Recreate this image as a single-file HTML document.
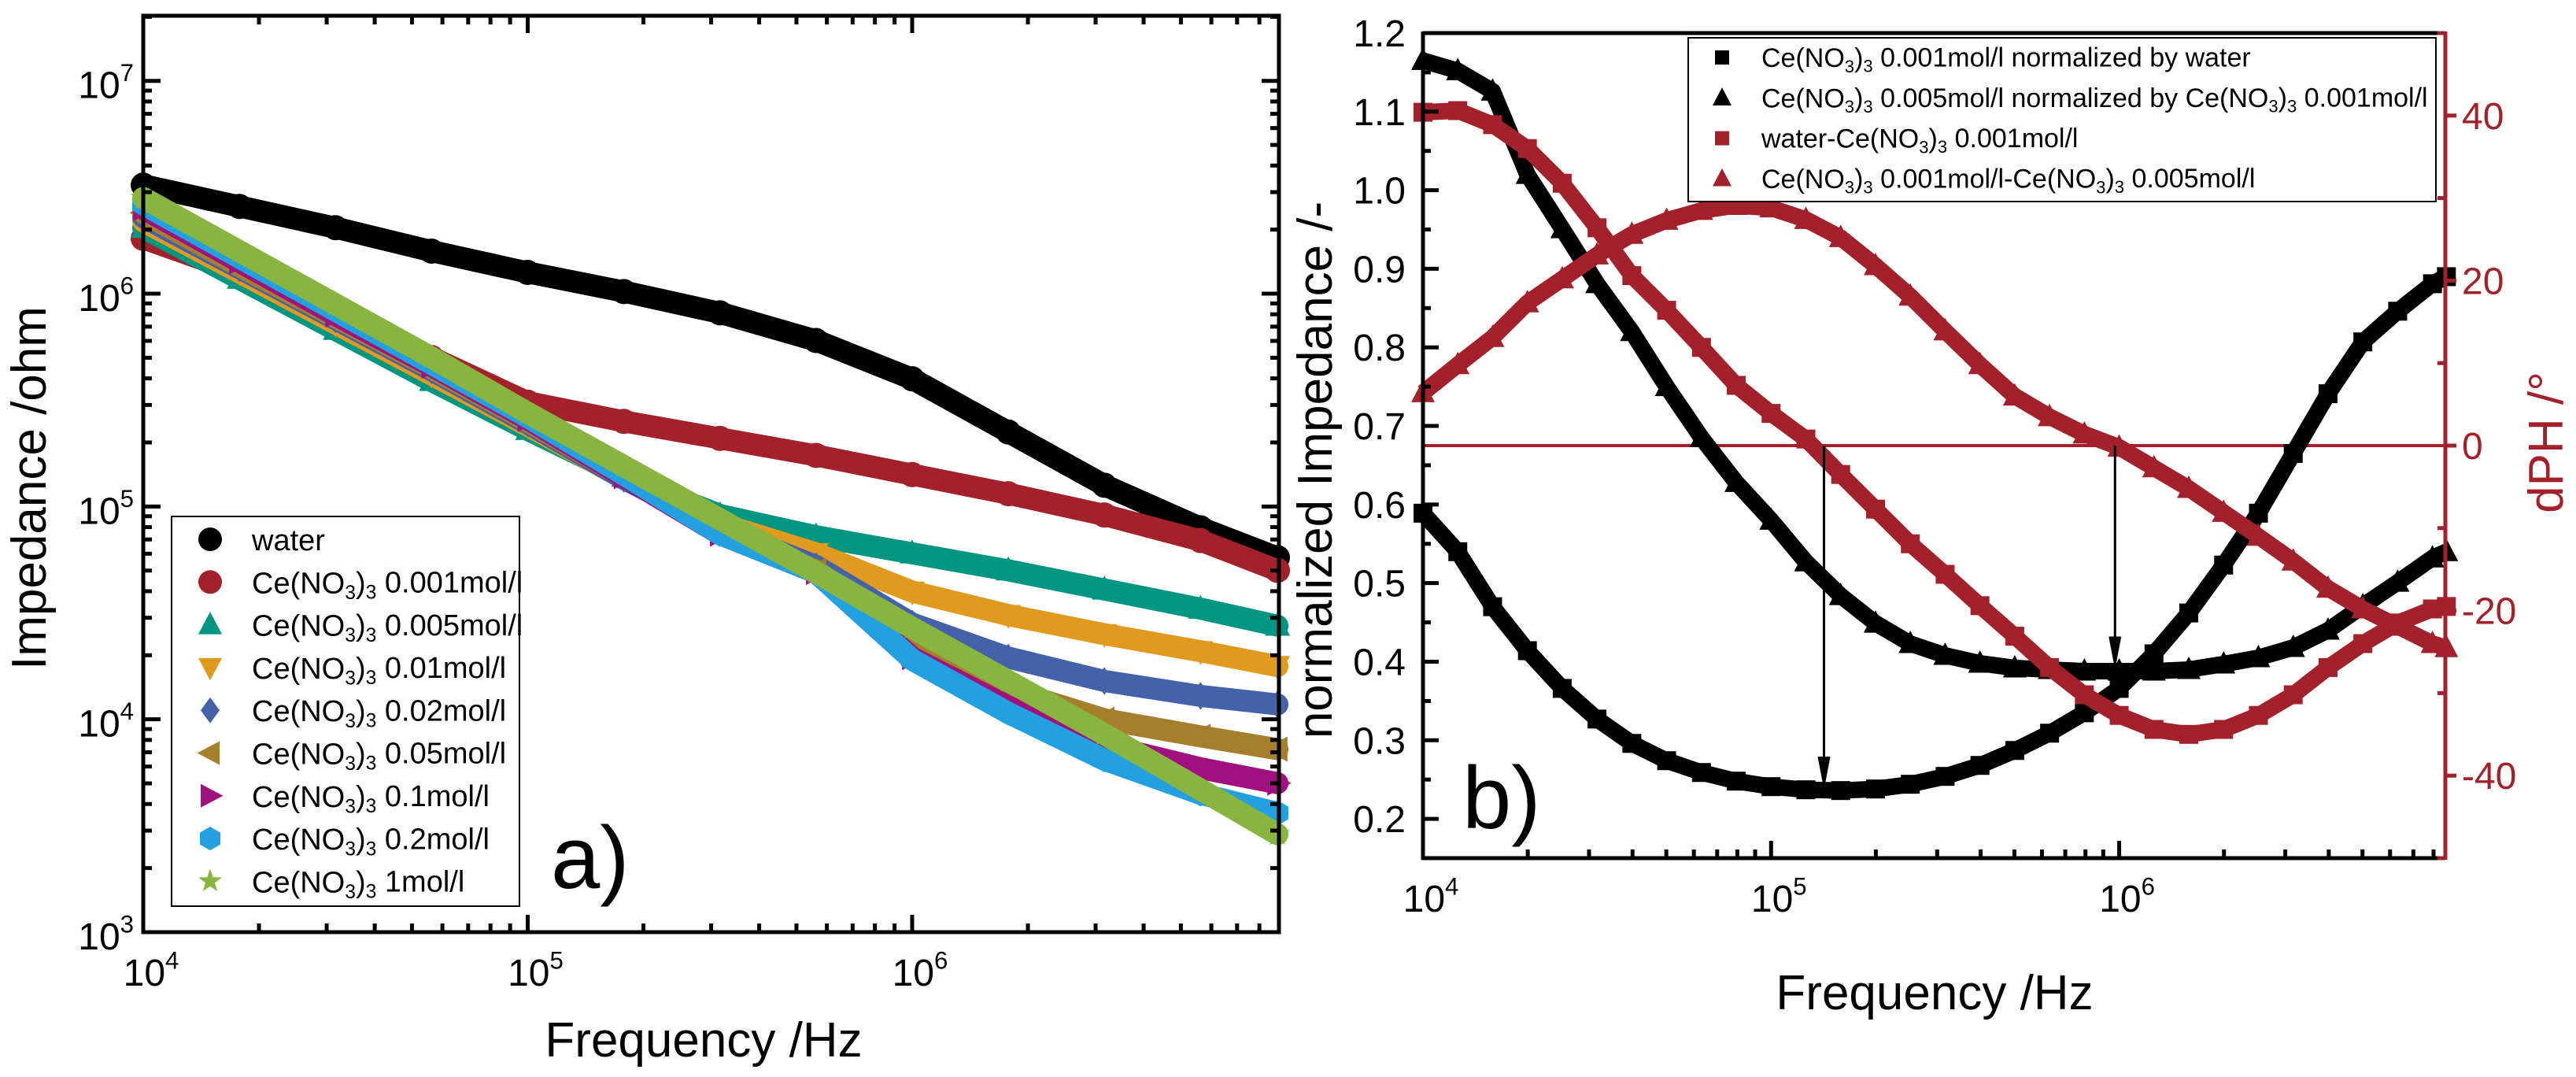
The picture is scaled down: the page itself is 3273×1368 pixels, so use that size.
<!DOCTYPE html>
<html><head><meta charset="utf-8"><style>
html,body{margin:0;padding:0;background:#fff;}
svg{display:block;font-family:"Liberation Sans",Arial,sans-serif;}
</style></head><body>
<svg id="fig" width="3273" height="1368" viewBox="0 0 3273 1368" xmlns="http://www.w3.org/2000/svg">
<g id="panelA"></g>
<g id="panelB"></g>
</svg>
<script>
// ---------- Panel A data (log10 frequency, log10 impedance) ----------
const freqLogA = [4,4.25,4.5,4.75,5,5.25,5.5,5.75,6,6.25,6.5,6.75,6.95];
const waterLogZ = [6.51,6.41,6.31,6.20,6.10,6.01,5.91,5.78,5.60,5.35,5.10,4.90,4.76];
const ce0001LogZ = [6.26,6.10,5.92,5.70,5.49,5.40,5.32,5.24,5.15,5.06,4.96,4.84,4.70];
const ce0005LogZ = [6.31,6.07,5.83,5.59,5.36,5.14,4.96,4.86,4.78,4.70,4.61,4.52,4.44];
const ce001LogZ = [6.34,6.10,5.86,5.62,5.38,5.13,4.92,4.78,4.60,4.49,4.40,4.32,4.25];
const ce002LogZ = [6.36,6.12,5.88,5.64,5.39,5.13,4.90,4.72,4.45,4.29,4.18,4.11,4.07];
const ce005LogZ = [6.38,6.13,5.89,5.65,5.40,5.14,4.88,4.70,4.36,4.14,4.00,3.92,3.86];
const ce01LogZ = [6.40,6.15,5.90,5.66,5.41,5.14,4.87,4.69,4.29,4.06,3.88,3.77,3.70];
const ce02LogZ = [6.42,6.17,5.92,5.67,5.42,5.15,4.87,4.69,4.28,4.03,3.81,3.65,3.56];
const ce1LogZ = [6.45,6.20,5.95,5.70,5.44,5.19,4.94,4.69,4.43,4.18,3.93,3.67,3.46];
const yTickExpA = [3,4,5,6,7];
const xTickExpA = [4,5,6];

// ---------- Panel B data ----------
const freqLogB = [4,4.1,4.2,4.3,4.4,4.5,4.6,4.7,4.8,4.9,5,5.1,5.2,5.3,5.4,5.5,5.6,5.7,5.8,5.9,6,6.1,6.2,6.3,6.4,6.5,6.6,6.7,6.8,6.9,6.94];
const normWater = [0.589,0.54,0.47,0.414,0.366,0.327,0.296,0.274,0.259,0.248,0.241,0.237,0.236,0.238,0.244,0.254,0.268,0.287,0.309,0.335,0.366,0.41,0.462,0.523,0.589,0.665,0.741,0.807,0.846,0.881,0.89];
const normCe0001 = [1.165,1.152,1.126,1.02,0.951,0.881,0.82,0.75,0.685,0.628,0.58,0.527,0.484,0.449,0.423,0.408,0.398,0.392,0.39,0.388,0.388,0.388,0.39,0.397,0.405,0.418,0.44,0.471,0.501,0.532,0.54];
const dphWater = [40.4,40.6,38.9,36,31.8,26.4,20.6,16.4,11.9,7.3,3.9,0.8,-3.5,-7.7,-11.9,-15.6,-19.4,-23.1,-26.9,-30.2,-32.7,-34.4,-35,-34.4,-32.7,-30.2,-26.9,-24,-21.5,-19.8,-19.5];
const dphCe = [6.4,9.8,13.1,17.3,20.2,23.1,25.6,27.3,28.5,29.1,28.8,27.4,25.2,21.8,18.1,13.9,9.8,6.0,3.5,1.4,-0.2,-2.7,-5.2,-8.1,-11,-14,-17.3,-19.8,-21.9,-24,-24.5];
const leftTicksB = [0.2,0.3,0.4,0.5,0.6,0.7,0.8,0.9,1.0,1.1,1.2];
const rightTicksB = [-40,-20,0,20,40];
const arrowFreqLog = [5.152,5.988];
const arrowTarget = [0.237,0.39];

const NS="http://www.w3.org/2000/svg";
const RED="#a3212a";
function mk(parent,tag,attrs){const e=document.createElementNS(NS,tag);for(const k in attrs)e.setAttribute(k,attrs[k]);parent.appendChild(e);return e;}

// ---------- Panel A scales ----------
const AL=182,AR=1625,AT=20,AB=1184,AXMAX=6.954,AYMIN=3,AYMAX=7.306;
function xA(l){return AL+(l-4)/(AXMAX-4)*(AR-AL);}
function yA(l){return AB-(l-AYMIN)/(AYMAX-AYMIN)*(AB-AT);}

function marker(g,type,x,y,s,color){
  let e;const h=s/2;
  if(type==='circle'){e=mk(g,'circle',{cx:x,cy:y,r:h,fill:color});}
  else if(type==='square'){e=mk(g,'rect',{x:x-h,y:y-h,width:s,height:s,fill:color});}
  else{
    let pts;
    if(type==='tri-up')pts=[[x,y-h*1.1],[x+h,y+h*0.8],[x-h,y+h*0.8]];
    else if(type==='tri-down')pts=[[x,y+h*1.1],[x+h,y-h*0.8],[x-h,y-h*0.8]];
    else if(type==='tri-left')pts=[[x-h*1.1,y],[x+h*0.8,y-h],[x+h*0.8,y+h]];
    else if(type==='tri-right')pts=[[x+h*1.1,y],[x-h*0.8,y-h],[x-h*0.8,y+h]];
    else if(type==='diamond')pts=[[x,y-h*1.1],[x+h*0.8,y],[x,y+h*1.1],[x-h*0.8,y]];
    else if(type==='hexagon'){pts=[];for(let i=0;i<6;i++){const a=Math.PI/6+i*Math.PI/3;pts.push([x+h*Math.cos(a),y+h*Math.sin(a)]);}}
    else if(type==='star'){pts=[];for(let i=0;i<10;i++){const r=i%2?h*0.42:h*1.05;const a=-Math.PI/2+i*Math.PI/5;pts.push([x+r*Math.cos(a),y+r*Math.sin(a)]);}}
    e=mk(g,'polygon',{points:pts.map(p=>p.join(',')).join(' '),fill:color});
  }
  return e;
}

function subText(g,x,y,size,parts,anchor,color){
  const t=mk(g,'text',{x:x,y:y,'font-size':size,fill:color||'#000','text-anchor':anchor||'start'});
  parts.forEach(p=>{
    const ts=document.createElementNS(NS,'tspan');
    if(p.sub){ts.setAttribute('font-size',size*0.65);ts.setAttribute('dy',size*0.2);}
    else if(p.sup){ts.setAttribute('font-size',size*0.65);ts.setAttribute('dy',-size*0.45);}
    else if(p.back){ts.setAttribute('dy',p.back);}
    ts.textContent=p.t;t.appendChild(ts);
  });
  return t;
}

(function(){
  const g=document.getElementById('panelA');
  const series=[
    {name:'water',d:waterLogZ,c:'#000000',m:'circle',lab:'water'},
    {name:'ce-0.001',d:ce0001LogZ,c:'#a3212a',m:'circle',lab:'0.001mol/l'},
    {name:'ce-0.005',d:ce0005LogZ,c:'#009682',m:'tri-up',lab:'0.005mol/l'},
    {name:'ce-0.01',d:ce001LogZ,c:'#e09b1e',m:'tri-down',lab:'0.01mol/l'},
    {name:'ce-0.02',d:ce002LogZ,c:'#4362aa',m:'diamond',lab:'0.02mol/l'},
    {name:'ce-0.05',d:ce005LogZ,c:'#a67f2c',m:'tri-left',lab:'0.05mol/l'},
    {name:'ce-0.1',d:ce01LogZ,c:'#a1107f',m:'tri-right',lab:'0.1mol/l'},
    {name:'ce-0.2',d:ce02LogZ,c:'#22a0e0',m:'hexagon',lab:'0.2mol/l'},
    {name:'ce-1',d:ce1LogZ,c:'#88b540',m:'star',lab:'1mol/l'}
  ];
  series.forEach(s=>{
    const sg=mk(g,'g',{});
    
    
    const pl=mk(sg,'polyline',{points:freqLogA.map((f,i)=>xA(f)+','+yA(s.d[i])).join(' '),fill:'none',stroke:s.c,'stroke-width':28,'stroke-linejoin':'round','stroke-linecap':'round'});
    
    
    freqLogA.forEach((f,i)=>{
      const m=marker(sg,s.m,xA(f),yA(s.d[i]),32,s.c);
      
      
    });
  });
  const fr=mk(g,'rect',{x:AL,y:AT,width:AR-AL,height:AB-AT,fill:'none',stroke:'#000','stroke-width':5});
  
  
  for(let d=4;d<=6;d++){for(let k=1;k<10;k++){const l=d+Math.log10(k);if(l>AXMAX)break;const x=xA(l);const len=k===1?22:11;
    const t1=mk(g,'line',{x1:x,y1:AB,x2:x,y2:AB-len,stroke:'#000','stroke-width':5});
    
    
    const t2=mk(g,'line',{x1:x,y1:AT,x2:x,y2:AT+len,stroke:'#000','stroke-width':5});
    
    }}
  for(let d=3;d<=7;d++){for(let k=1;k<10;k++){const l=d+Math.log10(k);if(l>AYMAX)break;const y=yA(l);const len=k===1?22:11;
    const t1=mk(g,'line',{x1:AL,y1:y,x2:AL+len,y2:y,stroke:'#000','stroke-width':5});
    
    
    const t2=mk(g,'line',{x1:AR,y1:y,x2:AR-len,y2:y,stroke:'#000','stroke-width':5});
    
    }}
  xTickExpA.forEach(e=>{const t=subText(g,xA(e)+10,1252,48,[{t:'10'},{t:String(e),sup:true}],'middle');
    
    });
  yTickExpA.forEach(e=>{const t=subText(g,170,yA(e)+22,48,[{t:'10'},{t:String(e),sup:true}],'end');
    
    });
  const xt=mk(g,'text',{x:894,y:1342,'font-size':62,'text-anchor':'middle'});xt.textContent='Frequency /Hz';
  
  
  const yt=mk(g,'text',{x:0,y:0,'font-size':62,'text-anchor':'middle',transform:'translate(58,620) rotate(-90)'});yt.textContent='Impedance /ohm';
  
  
  const pl=mk(g,'text',{x:700,y:1128,'font-size':112});pl.textContent='a)';
  
  
  const lg=mk(g,'g',{});
  
  
  const lb=mk(lg,'rect',{x:218,y:656,width:442,height:495,fill:'#fff',stroke:'#000','stroke-width':2});
  
  
  series.forEach((s,i)=>{const y=685+i*54.3;
    const m=marker(lg,s.m,267,y,30,s.c);
    
    
    const parts=s.name==='water'?[{t:'water'}]:[{t:'Ce(NO'},{t:'3',sub:true},{t:')',back:-8},{t:'3',sub:true},{t:' '+s.lab,back:-8}];
    const t=subText(lg,320,y+14,38,parts,'start');
    
    });
})();

// ---------- Panel B ----------
const BL=1808,BR=3107,BT=42,BB=1090,BXMAX=6.937;
function xB(l){return BL+(l-4)/(BXMAX-4)*(BR-BL);}
function yB(v){return BB-(v-0.15)/1.05*(BB-BT);}
function yR(d){return BB-(d+50)/100*(BB-BT);}
(function(){
  const g=document.getElementById('panelB');
  const zl=mk(g,'line',{x1:BL,y1:yR(0),x2:BR,y2:yR(0),stroke:RED,'stroke-width':4});
  
  
  const series=[
    {name:'norm-water',d:normWater,y:yB,c:'#000',m:'square',s:24},
    {name:'norm-ce-0.001',d:normCe0001,y:yB,c:'#000',m:'tri-up',s:30},
    {name:'dph-water',d:dphWater,y:yR,c:RED,m:'square',s:24},
    {name:'dph-ce',d:dphCe,y:yR,c:RED,m:'tri-up',s:30}
  ];
  series.forEach(s=>{
    const sg=mk(g,'g',{});
    
    
    const pl=mk(sg,'polyline',{points:freqLogB.map((f,i)=>xB(f)+','+s.y(s.d[i])).join(' '),fill:'none',stroke:s.c,'stroke-width':21,'stroke-linejoin':'round'});
    
    
    freqLogB.forEach((f,i)=>{const m=marker(sg,s.m,xB(f),s.y(s.d[i]),s.s,s.c);
      
      });
  });
  arrowFreqLog.forEach((f,i)=>{const x=xB(f),y1=yR(0),y2=yB(arrowTarget[i]);
    const ag=mk(g,'g',{});
    
    
    mk(ag,'line',{x1:x,y1:y1,x2:x,y2:y2-30,stroke:'#000','stroke-width':3});
    mk(ag,'polygon',{points:`${x-8},${y2-42} ${x+8},${y2-42} ${x},${y2}`,fill:'#000'});});
  const top=mk(g,'line',{x1:BL,y1:BT,x2:BR,y2:BT,stroke:'#000','stroke-width':5});
  
  
  const bot=mk(g,'line',{x1:BL-2,y1:BB,x2:BR,y2:BB,stroke:'#000','stroke-width':5});
  
  
  const la=mk(g,'line',{x1:BL,y1:BT-2,x2:BL,y2:BB+2,stroke:'#000','stroke-width':5});
  
  
  const ra=mk(g,'line',{x1:BR,y1:BT-2,x2:BR,y2:BB+2,stroke:RED,'stroke-width':5});
  
  
  for(let d=4;d<=6;d++){for(let k=1;k<10;k++){const l=d+Math.log10(k);if(l>BXMAX)break;const x=xB(l);const len=k===1?22:11;
    const t=mk(g,'line',{x1:x,y1:BB,x2:x,y2:BB-len,stroke:'#000','stroke-width':5});
    
    }}
  for(let v=0.15;v<=1.2001;v+=0.05){const major=Math.abs(Math.round(v*10)-v*10)<0.01;const y=yB(v);
    const t=mk(g,'line',{x1:BL,y1:y,x2:BL+(major?20:10),y2:y,stroke:'#000','stroke-width':5});
    
    }
  for(let d=-50;d<=50;d+=10){const y=yR(d);const major=d%20===0;
    const t=mk(g,'line',{x1:BR,y1:y,x2:major?BR+14:BR-10,y2:y,stroke:RED,'stroke-width':5});
    
    }
  xTickExpA.forEach(e=>{const t=subText(g,xB(e)+10,1158,48,[{t:'10'},{t:String(e),sup:true}],'middle');
    
    });
  leftTicksB.forEach(v=>{const t=mk(g,'text',{x:1786,y:yB(v)+17,'font-size':48,'text-anchor':'end'});t.textContent=v.toFixed(1);
    
    });
  rightTicksB.forEach(v=>{const t=mk(g,'text',{x:3128,y:yR(v)+17,'font-size':48,fill:RED});t.textContent=String(v);
    
    });
  const xt=mk(g,'text',{x:2458,y:1282,'font-size':62,'text-anchor':'middle'});xt.textContent='Frequency /Hz';
  
  
  const yt=mk(g,'text',{x:0,y:0,'font-size':62,'text-anchor':'middle',transform:'translate(1692,597) rotate(-90)'});yt.textContent='normalized Impedance /-';
  
  
  const y2=mk(g,'text',{x:0,y:0,'font-size':62,'text-anchor':'middle',fill:RED,transform:'translate(3256,562) rotate(-90)'});y2.textContent='dPH /°';
  
  
  const pl=mk(g,'text',{x:1858,y:1052,'font-size':112});pl.textContent='b)';
  
  
  const lg=mk(g,'g',{});
  
  
  const lb=mk(lg,'rect',{x:2145,y:48,width:950,height:208,fill:'#fff',stroke:'#000','stroke-width':2});
  
  
  const ce=[{t:'Ce(NO'},{t:'3',sub:true},{t:')',back:-7},{t:'3',sub:true}];
  const entries=[
    {m:'square',c:'#000',s:18,parts:[...ce,{t:' 0.001mol/l normalized by water',back:-7}]},
    {m:'tri-up',c:'#000',s:24,parts:[...ce,{t:' 0.005mol/l normalized by Ce(NO',back:-7},{t:'3',sub:true},{t:')',back:-7},{t:'3',sub:true},{t:' 0.001mol/l',back:-7}]},
    {m:'square',c:RED,s:18,parts:[{t:'water-Ce(NO'},{t:'3',sub:true},{t:')',back:-7},{t:'3',sub:true},{t:' 0.001mol/l',back:-7}]},
    {m:'tri-up',c:RED,s:24,parts:[...ce,{t:' 0.001mol/l-Ce(NO',back:-7},{t:'3',sub:true},{t:')',back:-7},{t:'3',sub:true},{t:' 0.005mol/l',back:-7}]}
  ];
  entries.forEach((en,i)=>{const y=73+i*51.3;
    const m=marker(lg,en.m,2188,y,en.s,en.c);
    
    
    const t=subText(lg,2238,y+12,34,en.parts,'start');
    
    });
})();
</script>
</body></html>
